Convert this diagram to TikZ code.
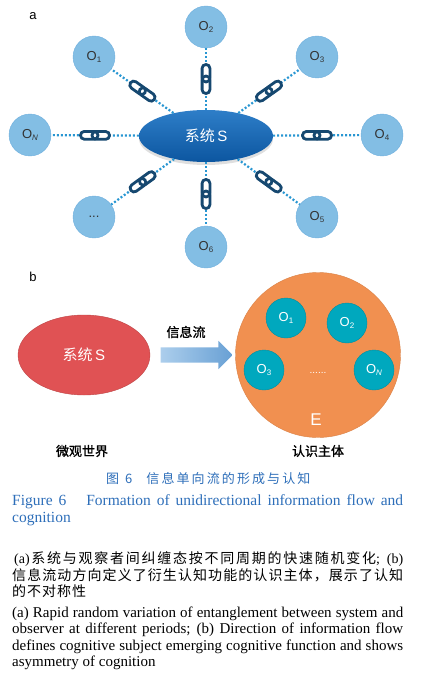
\documentclass[tikz,border=0pt]{standalone}
\usepackage{fontspec}
\setmainfont{Liberation Serif}
\newfontfamily\cjk{Noto Sans CJK SC}
\newfontfamily\cjkb[FakeBold=1.2]{Noto Sans CJK SC}
\newfontfamily\helv{Liberation Sans}
\usetikzlibrary{shapes.geometric,shapes.arrows,positioning,calc,shadows}

\definecolor{obsblue}{RGB}{131,190,228}
\definecolor{obsedge}{RGB}{112,176,222}
\definecolor{systop}{RGB}{46,126,200}
\definecolor{sysbot}{RGB}{12,86,160}
\definecolor{dotblue}{RGB}{40,150,210}
\definecolor{linkblue}{RGB}{22,72,112}
\definecolor{sysred}{RGB}{224,82,84}
\definecolor{subjorange}{RGB}{241,144,80}
\definecolor{obsteal}{RGB}{0,168,190}
\definecolor{flowleft}{RGB}{172,206,236}
\definecolor{flowright}{RGB}{104,160,212}
\definecolor{capblue}{RGB}{45,110,185}

% put \hfil between the characters of a CJK string
\def\spr#1{\sprA#1\sprend}
\def\sprA#1#2\sprend{#1\ifx\relax#2\relax\else\hfil\sprA#2\sprend\fi}
\newcommand\osub[1]{\raisebox{-0.3ex}{\fontsize{8}{8}\selectfont #1}}

\tikzset{
  chainlink/.pic={
    \fill[white,rounded corners=3.8pt] (-3,-3.9) rectangle (14.5,3.9);
    \draw[linkline,fill=white] (-14.5,-3.9) rectangle (3,3.9);
    \draw[linkline] (-3,-3.9) rectangle (14.5,3.9);
  }
}

\begin{document}
\begin{tikzpicture}[x=1pt,y=-1pt,
  obs/.style={circle,fill=obsblue,draw=obsedge,minimum size=42pt,inner sep=0pt,
    font=\helv\fontsize{13}{13}\selectfont,text=black!80},
  inobs/.style={circle,fill=obsteal,draw=obsteal!85!black,minimum size=40pt,inner sep=0pt,
    font=\helv\fontsize{13}{13}\selectfont,text=white},
  bond/.style={draw=dotblue,line width=2.2pt,dash pattern=on 2pt off 2pt},
  linkline/.style={draw=linkblue,solid,line width=2.8pt,rounded corners=3.8pt},
  part/.style={font=\helv\fontsize{13}{13}\selectfont},
  zhlabel/.style={font=\cjkb\fontsize{13}{13}\selectfont},
  line/.style={anchor=base west,inner sep=0pt}]
\useasboundingbox (0,0) rectangle (425,674);

% (a) system entangled with observers
\node[part] (pa) at (33,16) {a};
\coordinate (cS) at (206,136);
\node[ellipse,minimum width=134pt,minimum height=52pt,inner sep=0pt,
  top color=systop,bottom color=sysbot,
  drop shadow={opacity=0.25,shadow xshift=0pt,shadow yshift=-3pt},
  text=white,font=\fontsize{15}{15}\selectfont] (s) at (cS) {\cjk 系统\,\helv S};
\node[obs] (o1) at (94,57) {O\osub{1}};
\node[obs] (o2) at (206,27) {O\osub{2}};
\node[obs] (o3) at (317,57) {O\osub{3}};
\node[obs] (o4) at (382,135) {O\osub{4}};
\node[obs] (o5) at (317,217) {O\osub{5}};
\node[obs] (o6) at (206,247) {O\osub{6}};
\node[obs] (odots) at (94,217) {...};
\node[obs] (on) at (30,135) {O\osub{\textit{N}}};
\foreach \o in {o1,o2,o3,o4,o5,o6,odots,on}
  \draw[bond] (s) -- (\o) pic[pos=0.5,sloped] {chainlink};

% (b) one-way flow of information
\node[part] (pb) at (33,277) {b};
\node[ellipse,minimum width=132pt,minimum height=80pt,inner sep=0pt,
  fill=sysred,draw=sysred!85!black,text=white,
  font=\fontsize{15}{15}\selectfont] (sb) at (84,355) {\cjk 系统\,\helv S};
\node[circle,minimum size=165pt,inner sep=0pt,fill=subjorange,
  draw=subjorange!90!black] (e) at (318,355) {};
\node[single arrow,minimum height=72pt,inner xsep=0pt,inner ysep=7.5pt,
  single arrow head extend=6.5pt,left color=flowleft,right color=flowright,
  draw=none] (flow) at ($(sb.east)!0.5!(e.west)$) {};
\node[zhlabel] (flowlab) at (186,332) {信息流};
\node[inobs] (e1) at (286,318) {O\osub{1}};
\node[inobs] (e2) at (347,323) {O\osub{2}};
\node[inobs] (e3) at (264,370) {O\osub{3}};
\node[inobs] (en) at (374,370) {O\osub{\textit{N}}};
\node[text=white,font=\helv\fontsize{10}{10}\selectfont] (edots) at (318,373) {......};
\node[text=white,font=\helv\fontsize{17}{17}\selectfont] (elab) at (316,420) {E};
\node[zhlabel] (micro) at (82,451) {微观世界};
\node[zhlabel] (subject) at (318,451) {认识主体};

% caption
\node[line,text=capblue,font=\cjk\fontsize{13}{13}\selectfont] (capzh) at (106,483)
  {图\hspace{6pt}6\hspace{14pt}\makebox[164pt][s]{\spr{信息单向流的形成与认知}}};
\node[line,text=capblue,font=\fontsize{15.5}{15.5}\selectfont] (capen1) at (12,505)
  {\makebox[391pt][s]{Figure 6\hspace{20pt}Formation of unidirectional information flow and}};
\node[line,text=capblue,font=\fontsize{15.5}{15.5}\selectfont] (capen2) at (12,522) {cognition};

% notes
\node[line,font=\fontsize{14}{14}\selectfont] (zh1) at (14,563)
  {\makebox[389pt][s]{(a)\hfil\cjk\spr{系统与观察者间纠缠态按不同周期的快速随机变化}\rmfamily;\hspace{5pt}\hfil(b)}};
\node[line,font=\cjk\fontsize{14}{14}\selectfont] (zh2) at (12,580)
  {\makebox[391pt][s]{\spr{信息流动方向定义了衍生认知功能的认识主体，展示了认知}}};
\node[line,font=\cjk\fontsize{14}{14}\selectfont] (zh3) at (12,596)
  {\makebox[74pt][s]{\spr{的不对称性}}};
\node[line,font=\fontsize{15}{15}\selectfont] (en1) at (12,617)
  {\makebox[391pt][s]{(a) Rapid random variation of entanglement between system and}};
\node[line,font=\fontsize{15}{15}\selectfont] (en2) at (12,633)
  {\makebox[391pt][s]{observer at different periods; (b) Direction of information flow}};
\node[line,font=\fontsize{15}{15}\selectfont] (en3) at (12,650)
  {\makebox[391pt][s]{defines cognitive subject emerging cognitive function and shows}};
\node[line,font=\fontsize{15}{15}\selectfont] (en4) at (12,666) {asymmetry of cognition};
\end{tikzpicture}
\end{document}
